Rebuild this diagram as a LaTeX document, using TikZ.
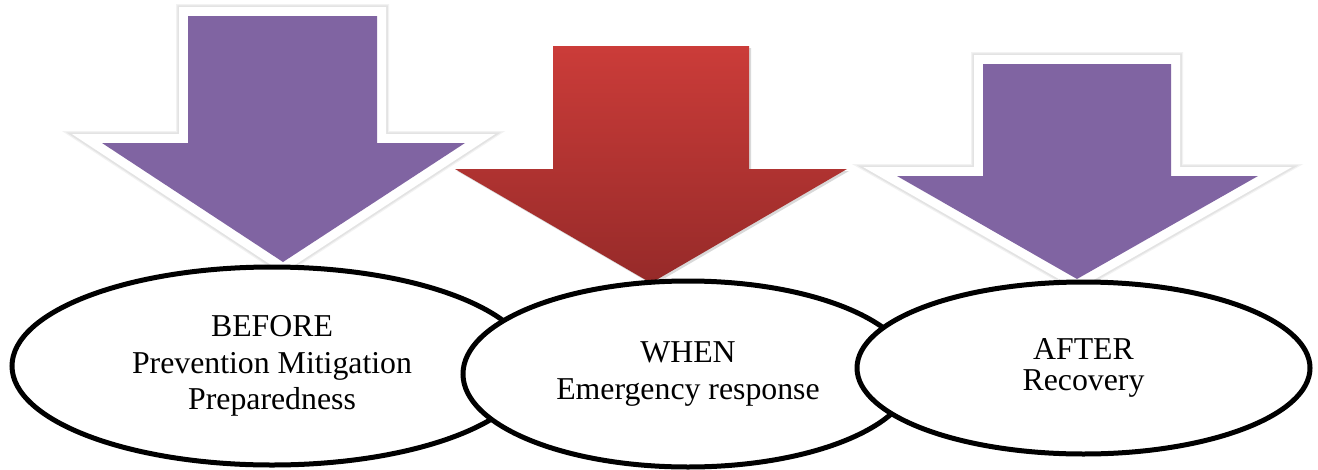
\documentclass[tikz,border=0pt]{standalone}
\usepackage{fontspec}
\setmainfont{Liberation Serif}
\usetikzlibrary{shapes.geometric}
\definecolor{phase-purple}{RGB}{128,100,162}
\definecolor{phase-red-top}{RGB}{203,60,57}
\definecolor{phase-red-bottom}{RGB}{150,42,41}
\tikzstyle{glow}=[draw=gray!10, line width=24pt, line join=miter]
\tikzstyle{haze}=[draw=gray!22, line width=21.5pt, line join=miter]
\tikzstyle{rim}=[draw=white, line width=18pt, line join=miter]
\tikzstyle{purple-arrow}=[fill=phase-purple, preaction={glow}, preaction={haze}, preaction={rim}]
\tikzstyle{red-arrow}=[top color=phase-red-top, bottom color=phase-red-bottom,
  preaction={fill=gray!30, transform canvas={xshift=2pt, yshift=-2pt}}]
\tikzstyle{phase}=[ellipse, draw, line width=5pt, fill=white, inner sep=0pt,
  align=center, font=\fontsize{31.8}{36.5}\selectfont]

\begin{document}
\begin{tikzpicture}[x=1pt, y=-1pt]
	\useasboundingbox (0,0) rectangle (1318,469);
	% the three arrows
	\path[purple-arrow] (188,16)--(377,16)--(377,143)--(465,143)--(283,262)--(102,143)--(188,143)--cycle;
	\path[red-arrow] (553,46)--(749,46)--(749,169)--(847,169)--(651,283)--(455,169)--(553,169)--cycle;
	\path[purple-arrow] (983,64)--(1171,64)--(1171,176)--(1258,176)--(1077,279)--(897,176)--(983,176)--cycle;
	% the three phases
	\node[phase, minimum width=520pt, minimum height=198pt] (before) at (272,366)
		{BEFORE\\Prevention Mitigation\\Preparedness};
	\node[phase, minimum width=450pt, minimum height=186pt] (when) at (688,374)
		{WHEN\\Emergency response};
	\node[phase, minimum width=453pt, minimum height=172pt,
		font=\fontsize{31.8}{31}\selectfont] (after) at (1083.5,368)
		{AFTER\\Recovery};
\end{tikzpicture}
\end{document}
